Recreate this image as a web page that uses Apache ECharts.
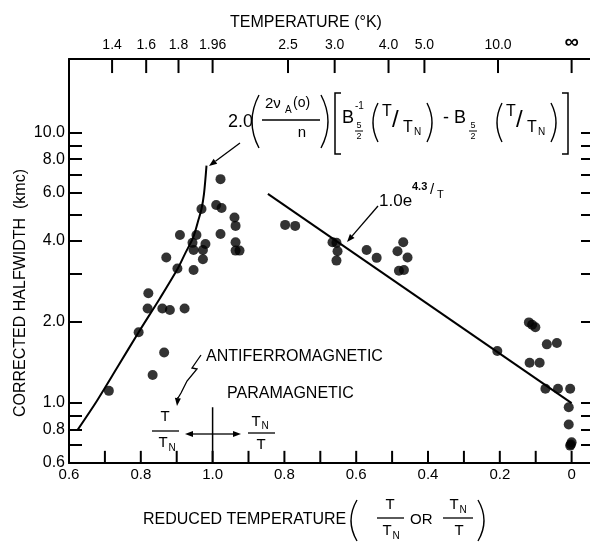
<!DOCTYPE html>
<html>
<head>
<meta charset="utf-8">
<script src="https://cdn.jsdelivr.net/npm/echarts@6/dist/echarts.min.js"></script>
<style>
  html, body { margin: 0; padding: 0; background: #fff; }
  #chart { width: 590px; height: 544px; }
</style>
</head>
<body>
<div id="chart"></div>
<script>
// antiferromagnetic side: T/TN and corrected halfwidth (kmc)
var antiT = [0.969, 0.909, 0.955, 0.944, 0.980, 0.947, 0.973, 0.871, 0.973, 0.902,
  0.947, 0.821, 0.819, 0.860, 0.881, 0.922, 0.794, 0.865, 0.833, 0.711]
var antiW = [5.23, 4.19, 4.19, 3.92, 3.88, 3.69, 3.69, 3.46, 3.41, 3.15,
  3.11, 2.55, 2.24, 2.24, 2.21, 2.24, 1.83, 1.54, 1.27, 1.11]

// paramagnetic side: TN/T and corrected halfwidth (kmc)
var paraR = [0.990, 0.975, 0.978, 0.939, 0.936, 0.978, 0.936, 0.936, 0.925, 0.798,
  0.770, 0.666, 0.655, 0.652, 0.655, 0.571, 0.543, 0.469, 0.485, 0.457,
  0.481, 0.467, 0.119, 0.110, 0.101, 0.207, 0.069, 0.041, 0.117, 0.089,
  0.073, 0.038, 0.004, 0.008, 0.008, 0.004, 0.000, 0.002]
var paraW = [5.41, 5.28, 6.75, 4.87, 4.53, 4.23, 3.94, 3.67, 3.67, 4.57,
  4.53, 3.94, 3.92, 3.65, 3.37, 3.69, 3.45, 3.94, 3.65, 3.46,
  3.09, 3.11, 1.99, 1.95, 1.91, 1.56, 1.65, 1.67, 1.41, 1.41,
  1.13, 1.13, 1.13, 0.965, 0.833, 0.696, 0.716, 0.702]

// theory curve (antiferromagnetic) and exponential fit (paramagnetic)
var curveT = [0.624, 0.678, 0.736, 0.794, 0.853, 0.903, 0.923, 0.946, 0.960, 0.969, 0.976, 0.983]
var curveW = [0.796, 1.02, 1.365, 1.83, 2.44, 3.15, 3.57, 4.11, 4.74, 5.23, 5.95, 7.57]
var fitR = [0.846, 0.0]
var fitW = [5.95, 1.0]

// axis ticks (bottom axis runs T/TN 0.6 -> 1.0, then TN/T 1.0 -> 0)
var xTicks = [0, 0.1, 0.2, 0.3, 0.4, 0.5, 0.6, 0.7, 0.8, 0.9, 1.0, 1.1, 1.2, 1.3, 1.4]
var xLabels = [0, 0.2, 0.4, 0.6, 0.8, 1.0, 1.2, 1.4]
var yTicks = [0.7, 0.8, 0.9, 1, 2, 3, 4, 5, 6, 7, 8, 9, 10]
var yLabels = [0.6, 0.8, 1, 2, 4, 6, 8, 10]
var tempLabels = ['1.4', '1.6', '1.8', '1.96', '2.5', '3.0', '4.0', '5.0', '10.0', '∞']
var tempRatio = [0.72, 0.815, 0.905, 1.0, 0.79, 0.66, 0.51, 0.41, 0.205, 0]
var tempSide = ['a', 'a', 'a', 'a', 'p', 'p', 'p', 'p', 'p', 'p']

var FONT = '"Liberation Sans", Arial, sans-serif'
var uA = function (t) { return t - 0.6 }
var uP = function (r) { return 1.4 - r }
var ly = function (v) { return Math.log10(v) }
var Y_MIN = ly(0.6), Y_MAX = ly(18.8)

var tempU = tempRatio.map(function (r, i) { return tempSide[i] === 'a' ? uA(r) : uP(r) })
var tempMap = {}
tempU.forEach(function (u, i) { tempMap[u.toFixed(3)] = tempLabels[i] })

function T(text, x, y, size, align, extra) {
  var style = { text: text, x: x, y: y, fill: '#000', fontSize: size, fontFamily: FONT,
    align: align || 'left', verticalAlign: 'middle' }
  if (extra) Object.assign(style, extra)
  return { type: 'text', silent: true, style: style }
}
function L(x1, y1, x2, y2, w) {
  return { type: 'line', silent: true, shape: { x1: x1, y1: y1, x2: x2, y2: y2 }, style: { stroke: '#000', lineWidth: w || 1.3 } }
}
function arrow(x1, y1, x2, y2) {
  var a = Math.atan2(y2 - y1, x2 - x1), len = 8, w = 3
  var bx = x2 - len * Math.cos(a), by = y2 - len * Math.sin(a)
  return [L(x1, y1, bx, by, 1.3), { type: 'polygon', silent: true,
    shape: { points: [[x2, y2], [bx - w * Math.sin(a), by + w * Math.cos(a)], [bx + w * Math.sin(a), by - w * Math.cos(a)]] },
    style: { fill: '#000' } }]
}
function paren(x, y1, y2, bulge) {
  return { type: 'bezierCurve', silent: true,
    shape: { x1: x, y1: y1, x2: x, y2: y2, cpx1: x - 2 * bulge, cpy1: (y1 + y2) / 2 },
    style: { stroke: '#000', fill: 'none', lineWidth: 1.4 } }
}
function bracket(x, y1, y2, dir) {
  return { type: 'polyline', silent: true,
    shape: { points: [[x + dir * 6, y1], [x, y1], [x, y2], [x + dir * 6, y2]] },
    style: { stroke: '#000', fill: 'none', lineWidth: 1.5 } }
}
function tOverTn(x0) {
  return [paren(x0 + 6, 103, 142, 5), T('T', x0 + 10, 112, 16), T('/', x0 + 20, 120, 24),
    T('T', x0 + 31, 128, 16), T('N', x0 + 42, 132, 10), paren(x0 + 55, 103, 142, -5)]
}
function half(x) {
  return [T('5', x, 126, 9, 'center'), L(x - 4, 131, x + 4, 131, 1), T('2', x, 137, 9, 'center')]
}

var graphics = [].concat(
  // titles
  T('TEMPERATURE (°K)', 306, 23, 16, 'center'),
  { type: 'text', silent: true, x: 21, y: 293, rotation: Math.PI / 2,
    style: { text: 'CORRECTED HALFWIDTH  (kmc)', fill: '#000', fontSize: 16, fontFamily: FONT, align: 'center', verticalAlign: 'middle' } },
  T('REDUCED TEMPERATURE', 143, 520, 16),
  paren(357, 500, 541, 6),
  T('T', 390, 505, 15, 'center'), L(377, 518, 404, 518), T('T', 387, 531, 15, 'center'), T('N', 396, 536, 10, 'center'),
  T('OR', 410, 520, 15),
  T('T', 454, 505, 15, 'center'), T('N', 463, 510, 10, 'center'), L(443, 518, 473, 518), T('T', 459, 531, 15, 'center'),
  paren(478, 500, 541, -6),
  // formula for the antiferromagnetic curve
  T('2.0', 228, 122, 18),
  paren(259, 95, 148, 7),
  T('2ν', 265, 104, 15), T('A', 285, 110, 10), T('(o)', 293, 103, 14),
  L(262, 120, 320, 120),
  T('n', 302, 133, 15, 'center'),
  paren(321, 95, 148, -7),
  bracket(335, 93, 154, 1),
  T('B', 342, 118, 18), T('-1', 355, 106, 10), half(359),
  tOverTn(372),
  T('- B', 443, 118, 18), half(473),
  tOverTn(496),
  bracket(568, 93, 154, -1),
  arrow(240, 143, 209, 166),
  // exponential fit label
  T('1.0e', 379, 201, 17), T('4.3', 412, 187, 11, 'left', { fontWeight: 'bold' }),
  T('/', 430, 190, 15), T('T', 437, 195, 11),
  arrow(378, 206, 347, 242),
  // regime annotations
  T('ANTIFERROMAGNETIC', 206, 357, 16),
  T('PARAMAGNETIC', 227, 394, 16),
  { type: 'polyline', silent: true, shape: { points: [[201, 355], [192, 368], [197, 369], [187, 381], [181, 393], [178, 398]] },
    style: { stroke: '#000', fill: 'none', lineWidth: 1.3 } },
  arrow(178, 397, 177, 406),
  T('T', 165, 417, 15, 'center'), L(152, 431, 179, 431), T('T', 163, 443, 15, 'center'), T('N', 172, 448, 10, 'center'),
  arrow(214, 434, 185, 434),
  arrow(214, 434, 241, 434),
  T('T', 256, 422, 15, 'center'), T('N', 265, 426, 10, 'center'), L(248, 433, 275, 433), T('T', 261, 445, 15, 'center')
)

// x-axis ticks drawn as short two-point line series (tick length in log units)
var BOTTOM_TICK = 0.045, TOP_TICK = 0.052
function tickSeries(u, y0, y1) {
  return { type: 'line', silent: true, showSymbol: false, animation: false,
    lineStyle: { color: '#000', width: 2 }, data: [[u, y0], [u, y1]] }
}
var tickLines = xTicks.map(function (u) { return tickSeries(u, Y_MIN, Y_MIN + BOTTOM_TICK) })
  .concat(tempU.map(function (u) { return tickSeries(u, Y_MAX, Y_MAX - TOP_TICK) }))

var chart = echarts.init(document.getElementById('chart'))
var tickStyle = { color: '#000', width: 2 }

chart.setOption({
  backgroundColor: '#fff',
  animation: false,
  textStyle: { fontFamily: FONT },
  grid: { left: 69, top: 59, width: 522, height: 404, containLabel: false, outerBoundsMode: 'none' },
  xAxis: [{
    type: 'value', position: 'bottom', min: 0, max: 1.454,
    axisLine: { onZero: false, lineStyle: { color: '#000', width: 2 } },
    axisTick: { show: false },
    axisLabel: {
      customValues: xLabels, color: '#000', fontSize: 15, margin: 4,
      formatter: function (u) {
        var v = u <= 0.4001 ? 0.6 + u : 1.4 - u
        if (Math.abs(v) < 1e-6) return '0'
        return v.toFixed(1)
      }
    },
    splitLine: { show: false }
  }, {
    type: 'value', position: 'top', min: 0, max: 1.454,
    axisLine: { onZero: false, lineStyle: { color: '#000', width: 2 } },
    axisTick: { show: false },
    axisLabel: {
      customValues: tempU, color: '#000', fontSize: 14, margin: 7,
      formatter: function (u) {
        var s = tempMap[u.toFixed(3)] || ''
        return s === '∞' ? '{inf|∞}' : s
      },
      rich: { inf: { fontSize: 20, fontWeight: 'bold', color: '#000' } }
    },
    splitLine: { show: false }
  }],
  yAxis: [{
    type: 'value', position: 'left', min: Y_MIN, max: Y_MAX,
    axisLine: { show: true, onZero: false, lineStyle: { color: '#000', width: 2 } },
    axisTick: { show: true, inside: true, length: 13, customValues: yTicks.map(ly), lineStyle: tickStyle },
    axisLabel: {
      customValues: yLabels.map(ly), color: '#000', fontSize: 16, margin: 4,
      formatter: function (v) { return Math.pow(10, v).toFixed(1) }
    },
    splitLine: { show: false }
  }, {
    type: 'value', position: 'right', min: Y_MIN, max: Y_MAX,
    axisLine: { show: false, onZero: false },
    axisTick: { show: true, inside: true, length: 10, customValues: yTicks.map(ly), lineStyle: tickStyle },
    axisLabel: { show: false },
    splitLine: { show: false }
  }],
  series: [{
    type: 'scatter', symbolSize: 10, itemStyle: { color: '#000' },
    data: antiT.map(function (t, i) { return [uA(t), ly(antiW[i])] })
  }, {
    type: 'scatter', symbolSize: 10, itemStyle: { color: '#000' },
    data: paraR.map(function (r, i) { return [uP(r), ly(paraW[i])] })
  }, {
    type: 'line', smooth: 0.3, showSymbol: false, lineStyle: { color: '#000', width: 2 },
    data: curveT.map(function (t, i) { return [uA(t), ly(curveW[i])] })
  }, {
    type: 'line', showSymbol: false, lineStyle: { color: '#000', width: 2 },
    data: fitR.map(function (r, i) { return [uP(r), ly(fitW[i])] })
  }, {
    // T/TN = 1 divider between the two regimes
    type: 'line', showSymbol: false, lineStyle: { color: '#000', width: 1.5 },
    data: [[0.4, Y_MIN], [0.4, ly(0.965)]]
  }].concat(tickLines),
  graphic: graphics
})
</script>
</body>
</html>
